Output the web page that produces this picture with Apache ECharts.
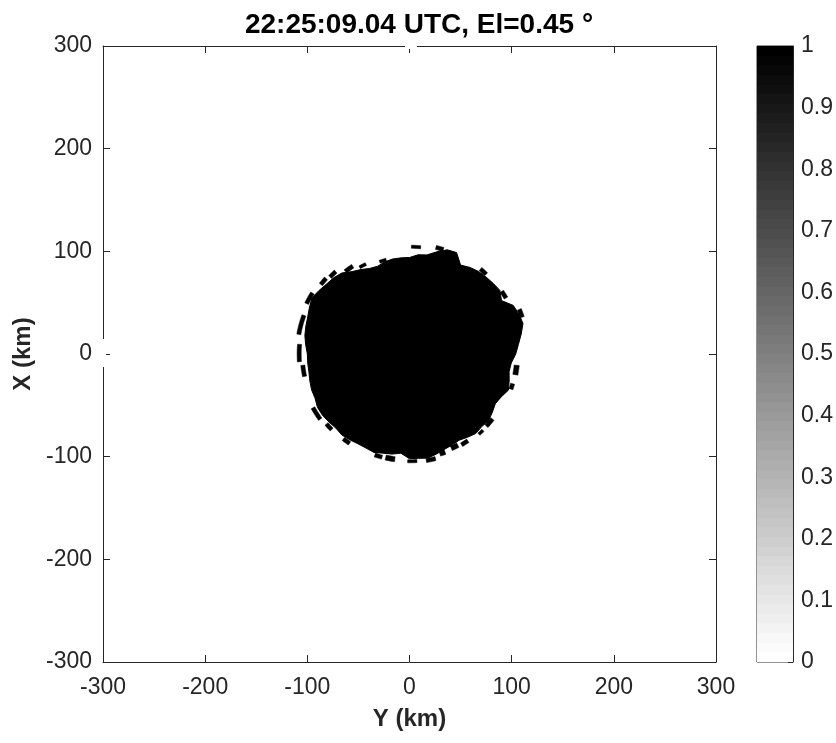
<!DOCTYPE html>
<html>
<head>
<meta charset="utf-8">
<script src="https://cdn.jsdelivr.net/npm/echarts@6/dist/echarts.min.js"></script>
<style>
  html, body { margin: 0; padding: 0; background: #fff; }
  #main { width: 836px; height: 743px; }
</style>
</head>
<body>
<div id="main"></div>
<script>
// radar echo, azimuth (deg from north, clockwise) and outer edge of solid echo (km)
const azimuths = [0, 5, 10, 15, 20, 25, 30, 35, 40, 45, 50, 55, 60, 65, 70, 75, 80, 85,
  90, 95, 100, 105, 110, 115, 120, 125, 130, 135, 140, 145, 150, 155, 160, 165, 170, 175,
  180, 185, 190, 195, 200, 205, 210, 215, 220, 225, 230, 235, 240, 245, 250, 255, 260, 265,
  270, 275, 280, 285, 290, 295, 300, 305, 310, 315, 320, 325, 330, 335, 340, 345, 350, 355];
const echoEdgeKm = [94, 97, 98, 103, 108, 109, 100, 103, 105, 106, 107, 108, 104, 112, 114, 115, 111, 107,
  104, 100, 99, 101, 103, 99, 97, 99, 101, 100, 101, 99, 97, 98, 99, 101, 103, 102,
  102, 97, 99, 100, 102, 101, 101, 102, 103, 102, 103, 104, 104, 102, 102, 101, 100, 100,
  100, 102, 104, 105, 106, 108, 110, 108, 106, 105, 103, 98, 95, 92, 91, 93, 94, 94];

// detached / ragged echo pieces along the edge
const fragAzStart  = [1, 14, 40, 56, 68, 96, 106, 128, 136, 146, 152, 160, 166, 176, 188, 195,
  214, 226, 234, 258, 266, 280, 296, 308, 314, 322, 330, 342];
const fragAzEnd    = [6, 18, 44, 60, 72, 101, 109, 133, 139, 150, 156, 163, 171, 181, 193, 199,
  218, 230, 241, 264, 275, 290, 302, 312, 318, 327, 334, 346];
const fragRangeIn  = [103, 105, 106, 107, 114, 103, 103, 101, 102, 100, 98, 99, 103, 103, 101, 102,
  103, 104, 106, 103, 106, 108, 110, 108, 106, 100, 96, 93];
const fragRangeOut = [106, 109, 110, 111, 118, 108, 107, 105, 105, 104, 103, 104, 107, 106, 106, 106,
  107, 108, 110, 107, 110, 112, 114, 112, 110, 104, 99, 96];

const axisTicks = [-300, -200, -100, 0, 100, 200, 300];
const colorTicks = [0, 0.1, 0.2, 0.3, 0.4, 0.5, 0.6, 0.7, 0.8, 0.9, 1];

const FONT = "'Liberation Sans', Arial, Helvetica, sans-serif";
const INK = '#262626';

function polar(az, r) {
  let a = az * Math.PI / 180;
  return [r * Math.sin(a), r * Math.cos(a)];   // [Y, X]
}

let echoData = azimuths.map((a, i) => [a, echoEdgeKm[i]]);
let fragData = fragAzStart.map((s, i) => [s, fragAzEnd[i], fragRangeIn[i], fragRangeOut[i]]);

// stepped gray colormap (64 levels), 0 = white at bottom, 1 = black on top
let cbStops = [];
for (let k = 0; k < 64; k++) {
  let g = Math.round(255 * (1 - k / 63));
  let c = 'rgb(' + g + ',' + g + ',' + g + ')';
  cbStops.push({ offset: k / 64, color: c });
  cbStops.push({ offset: (k + 1) / 64, color: c });
}

let chart = echarts.init(document.getElementById('main'), null, { renderer: 'canvas' });

let axLine = { show: true, onZero: false, lineStyle: { color: INK, width: 1 } };
let axTick = { show: true, inside: true, length: 7, lineStyle: { color: INK } };
let axLabel = { color: INK, fontSize: 23, fontFamily: FONT };

var option = {
  backgroundColor: '#fff',
  animation: false,
  title: {
    text: '22:25:09.04 UTC, El=0.45 °',
    left: 414, top: 6, textAlign: 'center',
    textStyle: { fontSize: 28, fontWeight: 'bold', color: '#000', fontFamily: FONT }
  },
  grid: [
    { left: 103, top: 46, width: 613, height: 616 },
    { left: 757, top: 46, width: 37, height: 616, show: true, borderColor: INK, borderWidth: 1, backgroundColor: 'transparent' }
  ],
  xAxis: [
    {
      gridIndex: 0, type: 'value', min: -300, max: 300, interval: 100,
      axisLine: axLine, axisTick: axTick, splitLine: { show: false },
      axisLabel: Object.assign({ margin: 14 }, axLabel),
      name: 'Y (km)', nameLocation: 'middle', nameGap: 45,
      nameTextStyle: { fontSize: 24, fontWeight: 'bold', color: INK, fontFamily: FONT }
    },
    {
      gridIndex: 0, type: 'value', min: -300, max: 300, interval: 100, position: 'top',
      axisLine: axLine, axisTick: axTick, splitLine: { show: false }, axisLabel: { show: false }
    },
    { gridIndex: 1, type: 'value', min: 0, max: 1, show: false }
  ],
  yAxis: [
    {
      gridIndex: 0, type: 'value', min: -300, max: 300, interval: 100,
      axisLine: axLine, axisTick: axTick, splitLine: { show: false },
      axisLabel: Object.assign({ margin: 11 }, axLabel),
      name: 'X (km)', nameLocation: 'middle', nameGap: 53,
      nameTextStyle: { fontSize: 24, fontWeight: 'bold', color: INK, fontFamily: FONT }
    },
    {
      gridIndex: 0, type: 'value', min: -300, max: 300, interval: 100, position: 'right',
      axisLine: axLine, axisTick: axTick, splitLine: { show: false }, axisLabel: { show: false }
    },
    {
      gridIndex: 1, type: 'value', min: 0, max: 1, interval: 0.1, position: 'right',
      axisLine: axLine, axisTick: { show: true, inside: true, length: 5, lineStyle: { color: INK } },
      splitLine: { show: false },
      axisLabel: Object.assign({ margin: 8 }, axLabel)
    }
  ],
  series: [
    {
      type: 'custom', name: 'echo', xAxisIndex: 0, yAxisIndex: 0, clip: true,
      data: [[0, 0]],
      renderItem: function (params, api) {
        // one outline through all edge points
        let pts = echoData.map(d => api.coord(polar(d[0], d[1])));
        return {
          type: 'polygon',
          shape: { points: pts },
          style: { fill: '#000', stroke: '#000', lineWidth: 1 }
        };
      }
    },
    {
      type: 'custom', name: 'fragments', xAxisIndex: 0, yAxisIndex: 0, clip: true,
      data: fragData,
      renderItem: function (params, api) {
        let a0 = api.value(0), a1 = api.value(1), r0 = api.value(2), r1 = api.value(3);
        let pts = [];
        for (let a = a0; a <= a1; a += 1) pts.push(api.coord(polar(a, r1)));
        for (let a = a1; a >= a0; a -= 1) pts.push(api.coord(polar(a, r0)));
        return {
          type: 'polygon',
          shape: { points: pts },
          style: { fill: '#000', stroke: '#000', lineWidth: 0.5 }
        };
      }
    },
    {
      type: 'custom', name: 'colorbar', xAxisIndex: 2, yAxisIndex: 2,
      data: [[0, 0, 1, 1]],
      renderItem: function (params, api) {
        let tl = api.coord([api.value(0), api.value(3)]);
        let br = api.coord([api.value(2), api.value(1)]);
        return {
          type: 'rect',
          shape: { x: tl[0], y: tl[1], width: br[0] - tl[0], height: br[1] - tl[1] },
          style: { fill: new echarts.graphic.LinearGradient(0, 1, 0, 0, cbStops) },
          z2: -1
        };
      }
    }
  ],
  graphic: [
    { type: 'rect', z: 100, shape: { x: 405, y: 43, width: 12, height: 6 }, style: { fill: '#fff' } },
    { type: 'rect', z: 100, shape: { x: 100, y: 339, width: 6, height: 28 }, style: { fill: '#fff' } }
  ]
};

chart.setOption(option);
</script>
</body>
</html>
